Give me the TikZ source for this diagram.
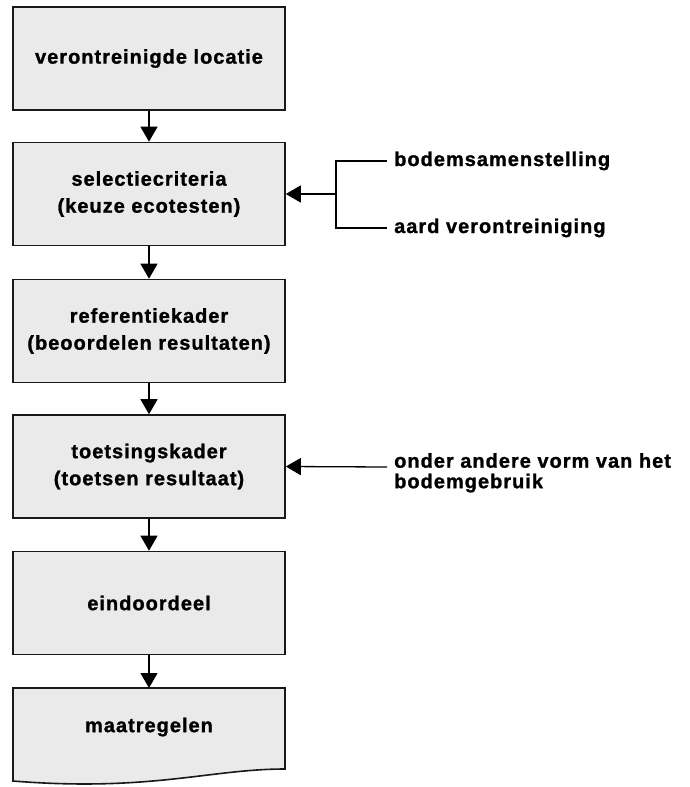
\documentclass[tikz,border=0pt]{standalone}
\usepackage{fontspec}
\setmainfont{Liberation Sans}[LetterSpace=5,BoldFeatures={FakeBold=1.2}]
\usetikzlibrary{arrows.meta}
\definecolor{boxgray}{RGB}{234,234,234}
\begin{document}
\begin{tikzpicture}[x=1pt,y=-1pt,
  stepbox/.style={draw=black!90,fill=boxgray,line width=1.6pt,minimum width=272pt,minimum height=103pt,inner sep=0pt,align=center,
    font=\bfseries\fontsize{20pt}{27pt}\selectfont},
  lbl/.style={inner sep=0pt,align=left,font=\bfseries\fontsize{20pt}{20.5pt}\selectfont},
  arr/.style={-{Triangle[length=15pt,width=17pt]},line width=1.3pt},
  ln/.style={line width=1.3pt}]
\useasboundingbox (0,0) rectangle (690,787);
\node[stepbox] (b1) at (149,58.5) {verontreinigde locatie};
\node[stepbox] (b2) at (149,194) {selectiecriteria\\(keuze ecotesten)};
\node[stepbox] (b3) at (149,331) {referentiekader\\(beoordelen resultaten)};
\node[stepbox] (b4) at (149,466.5) {toetsingskader\\(toetsen resultaat)};
\node[stepbox] (b5) at (149,603) {eindoordeel};
% document shape
\draw[draw=black!90,fill=boxgray,line width=1.6pt] (13,688) -- (285,688) -- (285,769)
  .. controls (210,769) and (150,792) .. (13,781) -- cycle;
\coordinate (b6top) at (149,688);
\node[inner sep=0pt,font=\bfseries\fontsize{20pt}{27pt}\selectfont] (b6) at (149,727) {maatregelen};
\draw[arr] (b1) -- (b2);
\draw[arr] (b2) -- (b3);
\draw[arr] (b3) -- (b4);
\draw[arr] (b4) -- (b5);
\draw[arr] (b5) -- (b6top);
% side inputs
\node[lbl,anchor=base west] (s1) at (394,166) {bodemsamenstelling};
\node[lbl,anchor=base west] (s2) at (394,233) {aard verontreiniging};
\coordinate (j) at (336,194);
\draw[ln] ([xshift=-7pt]s1.west) -| (j) |- ([xshift=-7pt]s2.west);
\draw[arr] (j) -- (b2.east);
\node[lbl,anchor=north west] (s3) at (394,453) {onder andere vorm van het\\bodemgebruik};
\coordinate (s3in) at (387,467);
\draw[arr] (s3in) -- (b4.east);
\end{tikzpicture}
\end{document}
